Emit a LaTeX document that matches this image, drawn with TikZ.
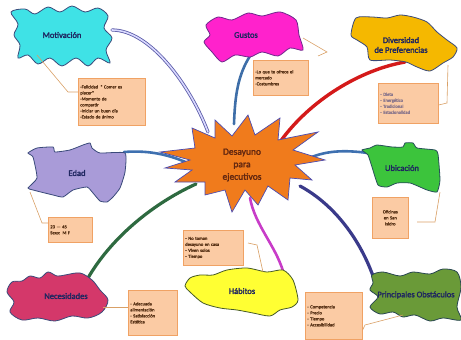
\documentclass[tikz,border=0pt]{standalone}
\usepackage{fontspec}
\setmainfont{Carlito}[AutoFakeBold=2.2]
\usetikzlibrary{positioning}

\definecolor{navytext}{HTML}{1F2660}
\definecolor{blobline}{HTML}{3A4A7A}
\definecolor{notefill}{HTML}{FBCBA4}
\definecolor{noteline}{HTML}{F0A264}
\definecolor{notetext}{HTML}{5A3418}
\definecolor{leadcol}{HTML}{D9A066}
\definecolor{starfill}{HTML}{F07B1C}
\definecolor{motfill}{HTML}{3FE2E6}
\definecolor{gusfill}{HTML}{FF22CC}
\definecolor{divfill}{HTML}{F5B800}
\definecolor{edafill}{HTML}{A99BD8}
\definecolor{ubifill}{HTML}{3CC43C}
\definecolor{necfill}{HTML}{D4386A}
\definecolor{habfill}{HTML}{FFFF33}
\definecolor{prifill}{HTML}{6A9A38}

\tikzset{
    blob/.style={draw=blobline, line width=0.8pt},
    title/.style={font=\bfseries\fontsize{8.5}{9.8}\selectfont, text=navytext, align=center},
    note/.style={draw=noteline, fill=notefill, line width=0.6pt, anchor=north west,
        font=\bfseries\fontsize{4.6}{6}\selectfont, text=notetext, align=left, inner sep=2pt},
    branch/.style={line width=2.6pt, line cap=round},
    lead/.style={leadcol, line width=0.6pt},
}

\begin{document}
\begin{tikzpicture}[x=1pt, y=-1pt]
    \useasboundingbox (0,0) rectangle (461,340);

    % end points of the branches
    \coordinate (mot-b) at (112,30);
    \coordinate (gus-b) at (250,56);
    \coordinate (div-b) at (405,62);
    \coordinate (eda-b) at (124,152);
    \coordinate (ubi-b) at (368,153);
    \coordinate (nec-b) at (88,278);
    \coordinate (hab-b) at (283,271);
    \coordinate (pri-b) at (373,276);
    \coordinate (c-mot) at (208,132);
    \coordinate (c-gus) at (234,124);
    \coordinate (c-div) at (280,142);
    \coordinate (c-eda) at (190,164);
    \coordinate (c-ubi) at (305,160);
    \coordinate (c-nec) at (196,184);
    \coordinate (c-hab) at (250,198);
    \coordinate (c-pri) at (300,186);

    % branches
    \draw [branch, line width=0.8pt, draw=gray!70!blue, double=blue!15!white, double distance=1.6pt]
        (mot-b) .. controls (150,30) and (190,85) .. (c-mot);
    \draw [branch, color={rgb,255:red,62;green,110;blue,168}]
        (gus-b) .. controls (238,75) and (235,95) .. (c-gus);
    \draw [branch, line width=3.4pt, color={rgb,255:red,212;green,26;blue,26}]
        (c-div) .. controls (310,100) and (360,70) .. (div-b);
    \draw [branch, color={rgb,255:red,62;green,112;blue,176}]
        (eda-b) .. controls (150,150) and (170,155) .. (c-eda);
    \draw [branch, color={rgb,255:red,62;green,112;blue,176}]
        (c-ubi) .. controls (325,150) and (345,150) .. (ubi-b);
    \draw [branch, line width=3.2pt, color={rgb,255:red,46;green,106;blue,64}]
        (nec-b) .. controls (110,240) and (150,205) .. (c-nec);
    \draw [branch, color={rgb,255:red,200;green,60;blue,200}]
        (c-hab) .. controls (255,225) and (275,245) .. (hab-b);
    \draw [branch, line width=3.2pt, color={rgb,255:red,58;green,58;blue,138}]
        (c-pri) .. controls (335,205) and (360,240) .. (pri-b);

    % central star
    \draw [fill=starfill, draw=gray!60!blue, line width=0.7pt] plot coordinates {
        (160,152) (195,148) (192,128) (215,138) (215,120) (232,136) (248,115)
        (255,135) (280,118) (278,140) (318,132) (293,150) (325,160) (295,165)
        (312,180) (290,178) (288,200) (268,186) (258,205) (245,190) (232,212)
        (225,190) (205,195) (205,182) (175,182) (192,170) (165,168) (190,160)} -- cycle;
    \node (desayuno) [title, font=\bfseries\fontsize{9.5}{12.5}\selectfont,
        text={rgb,255:red,100;green,40;blue,16}] at (242,165) {Desayuno\\para\\ejecutivos};

    % topics
    \draw [blob, fill=motfill] plot [smooth cycle, tension=0.55] coordinates {
        (11,12) (25,9) (35,14) (48,7) (60,12) (72,6) (85,12) (98,8) (108,16)
        (104,28) (112,38) (106,50) (110,63) (98,58) (88,66) (76,58) (62,66)
        (50,58) (38,64) (28,55) (18,58) (20,45) (14,35) (18,24)};
    \node (mot) [title] at (62,35) {Motivación};

    \draw [blob, draw={rgb,255:red,110;green,40;blue,140}, fill=gusfill]
        plot [smooth cycle, tension=0.45] coordinates {
        (206,25) (218,17) (232,20) (248,13) (262,16) (280,12) (296,20) (299,35)
        (303,50) (290,48) (278,56) (262,52) (250,57) (235,55) (222,62) (212,52)
        (204,42) (210,35)};
    \node (gus) [title] at (246,35) {Gustos};

    \draw [blob, fill=divfill] plot [smooth cycle, tension=0.45] coordinates {
        (351,35) (356,18) (372,17) (387,18) (400,15) (413,17) (427,22) (437,32)
        (447,40) (457,48) (453,57) (443,63) (430,71) (417,67) (406,62) (390,60)
        (370,60) (367,47) (357,40)};
    \node (div) [title] at (401,45) {Diversidad\\de Preferencias};

    \draw [blob, fill=edafill] plot [smooth cycle, tension=0.3] coordinates {
        (28,153) (37,148) (53,147) (55,152) (70,150) (83,145) (90,143) (92,148)
        (100,153) (125,153) (125,172) (120,188) (113,197) (107,202) (100,201)
        (93,193) (87,187) (73,190) (63,197) (53,195) (33,190) (28,188) (37,178)
        (33,157)};
    \node (eda) [title] at (77,173) {Edad};

    \draw [blob, draw={rgb,255:red,40;green,80;blue,90}, fill=ubifill]
        plot [smooth cycle, tension=0.3] coordinates {
        (362,150) (370,148) (377,145) (392,147) (403,147) (405,143) (413,143)
        (417,148) (435,150) (438,154) (440,180) (437,192) (427,190) (420,187)
        (410,183) (397,183) (387,187) (378,185) (372,167) (368,155)};
    \node (ubi) [title] at (402,168) {Ubicación};

    \draw [blob, fill=necfill] plot [smooth cycle, tension=0.55] coordinates {
        (12,282) (22,281) (30,276) (40,278) (48,272) (57,276) (65,275) (80,273)
        (92,280) (100,290) (108,300) (102,312) (88,318) (72,316) (55,321)
        (38,318) (22,320) (10,312) (14,302) (7,292)};
    \node (nec) [title] at (66,296) {Necesidades};

    \draw [blob, draw={rgb,255:red,70;green,90;blue,40}, fill=habfill]
        plot [smooth cycle, tension=0.45] coordinates {
        (190,278) (200,275) (213,275) (227,270) (247,268) (267,272) (283,270)
        (293,280) (298,300) (292,307) (280,310) (270,316) (253,313) (237,310)
        (220,308) (203,303) (190,292) (185,286)};
    \node (hab) [title] at (242,291) {Hábitos};

    \draw [blob, draw={rgb,255:red,40;green,70;blue,80}, fill=prifill]
        plot [smooth cycle, tension=0.5] coordinates {
        (372,275) (383,272) (400,276) (413,272) (430,274) (443,269) (457,272)
        (461,287) (457,307) (461,320) (443,318) (430,321) (415,315) (403,317)
        (393,312) (380,314) (370,307) (378,297) (370,290) (373,283)};
    \node (pri) [title] at (416,295) {Principales Obstáculos};

    % notes
    \node (mot-n) [note, text width=63pt, minimum height=47pt] at (78,78)
        {-Felicidad \,“ Comer es\\placer”\\-Momento de\\compartir\\-Iniciar un buen día\\-Estado de ánimo};
    \node (gus-n) [note, text width=51pt, minimum height=35pt] at (253,60)
        {-Lo que te ofrece el\\mercado\\-Costumbres\\[5pt]};
    \node (div-n) [note, text width=56pt, minimum height=40pt,
        text={rgb,255:red,140;green,120;blue,140}] at (378,83)
        {- Dieta\\- Energético\\- Tradicional\\- Estacionalidad};
    \node (eda-n) [note, text width=40pt, minimum height=25pt] at (48,217)
        {23 — 45\\Sexo: M F};
    \node (ubi-n) [note, text width=32pt, minimum height=41pt, align=center] at (372,197)
        {Oficinas\\en San\\Isidro};
    \node (nec-n) [note, text width=45pt, minimum height=45pt] at (128,290)
        {- Adecuada\\alimentación\\- Satisfacción\\Estética};
    \node (hab-n) [note, text width=56pt, minimum height=35pt] at (183,230)
        {- No toman\\desayuno en casa\\- Viven solos\\- Tiempo};
    \node (pri-n) [note, text width=53pt, minimum height=47pt] at (305,292)
        {- Competencia\\- Precio\\- Tiempo\\- Accesibilidad};

    % leads from topics to notes
    \draw [lead] (37,55) -- (68,92) -- (mot-n.west |- 0,92);
    \draw [lead] (303,38) -- (327,52) -- (318,56);
    \draw [lead] (448,65) -- (447,103) -- (div-n.east |- 0,105);
    \draw [lead] (30,192) -- (42,223) -- (eda-n.west |- 0,223);
    \draw [lead] (440,192) -- (435,222) -- (417,222);
    \draw [lead] (103,307) -- (nec-n.west |- 0,307);
    \draw [lead] (248,243) -- (257,245) -- (263,272);
    \draw [lead] (403,315) -- (365,325) -- (pri-n.east |- 0,330);
\end{tikzpicture}
\end{document}
